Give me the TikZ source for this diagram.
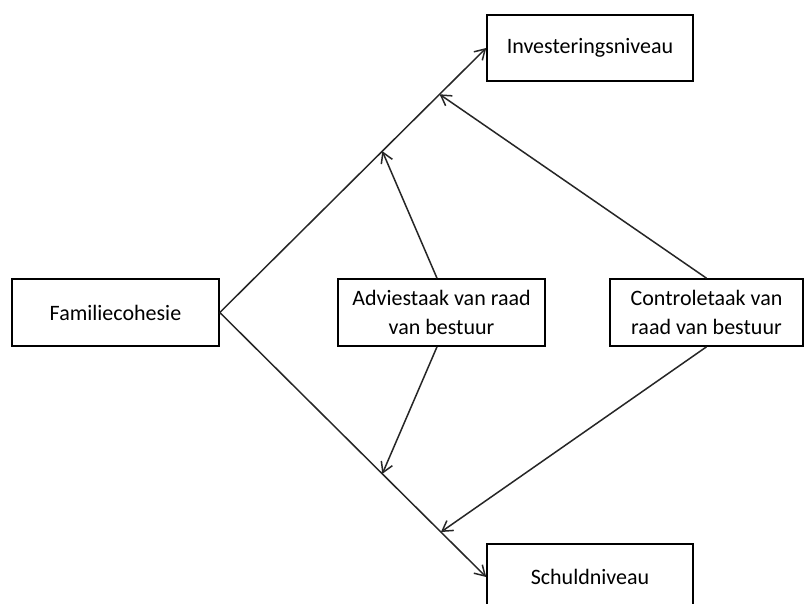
\documentclass[tikz,border=0pt]{standalone}
\usepackage{fontspec}
\setmainfont{Carlito}
\usetikzlibrary{arrows.meta,calc}
\begin{document}
\begin{tikzpicture}[x=1pt,y=1pt,
  box/.style={draw=black,line width=1.6pt,fill=white,inner sep=0pt,align=center,
    font=\fontsize{22pt}{29pt}\selectfont},
  link/.style={draw=black!85,line width=1.5pt,-{Straight Barb[length=10pt,width=12pt,line width=1.5pt]}}]
\useasboundingbox (0,0) rectangle (805,-603);
\clip (0,0) rectangle (805,-603);
\fill[white] (0,0) rectangle (805,-603);
\node[box,minimum width=206,minimum height=66] (inv) at (590,-48) {Investeringsniveau};
\node[box,minimum width=207,minimum height=67] (fam) at (115.5,-312.5) {Familiecohesie};
\node[box,minimum width=207,minimum height=67] (adv) at (441.5,-312.5) {Adviestaak van raad\\van bestuur};
\node[box,minimum width=193,minimum height=67] (con) at (706.5,-312.5) {Controletaak van\\raad van bestuur};
\node[box,minimum width=206,minimum height=66] (sch) at (590,-577) {Schuldniveau};
\coordinate (p1) at ($(fam.east)!0.61!(inv.west)$);
\coordinate (p2) at ($(fam.east)!0.825!(inv.west)$);
\coordinate (q1) at ($(fam.east)!0.61!(sch.west)$);
\coordinate (q2) at ($(fam.east)!0.83!(sch.west)$);
\draw[link] (fam.east) -- (inv.west);
\draw[link] (fam.east) -- (sch.west);
\draw[link] ([xshift=-4.5pt]adv.north) -- (p1);
\draw[link] ([xshift=-4.5pt]adv.south) -- (q1);
\draw[link] (con.north) -- (p2);
\draw[link] (con.south) -- (q2);
\end{tikzpicture}
\end{document}
